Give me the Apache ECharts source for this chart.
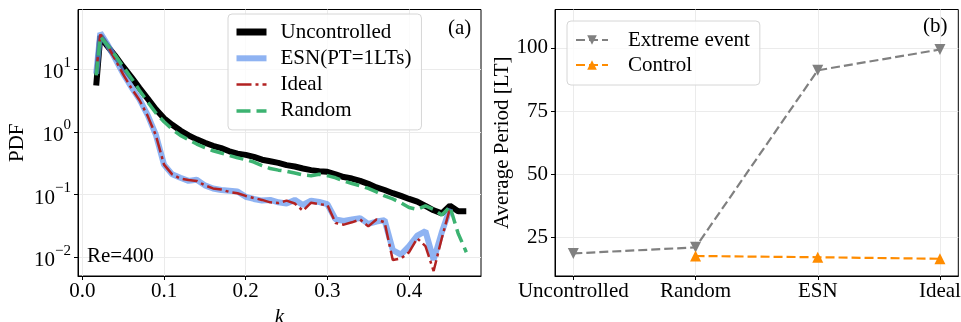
<!DOCTYPE html>
<html><head><meta charset="utf-8">
<script src="https://cdn.jsdelivr.net/npm/echarts@6/dist/echarts.min.js"></script>
<style>html,body{margin:0;padding:0;background:#fff}#c{width:961px;height:322px}</style>
</head><body><div id="c"></div>
<script>
// ---- Data (panel a) ----
const kGrid = [0.017,0.022,0.03,0.04,0.05,0.06,0.07,0.08,0.09,0.10,0.11,0.12,0.13,0.14,0.15,0.16,0.17,0.18,0.19,0.20,0.21,0.22,0.23,0.24,0.25,0.26,0.27,0.28,0.29,0.30,0.31,0.32,0.33,0.34,0.35,0.36,0.37,0.38,0.39,0.40,0.41,0.42,0.43,0.44,0.45,0.46,0.47];
const pdfUncontrolled = [5.5,34,24,16.5,11,7.5,5.0,3.4,2.3,1.65,1.3,1.05,0.88,0.76,0.67,0.6,0.55,0.49,0.45,0.43,0.40,0.36,0.34,0.32,0.295,0.28,0.26,0.245,0.235,0.23,0.21,0.19,0.18,0.165,0.148,0.13,0.118,0.105,0.095,0.085,0.077,0.066,0.056,0.05,0.066,0.054,0.054];
const pdfESN = [8.5,38,26,15,8.5,5.2,3.3,1.85,0.9,0.3,0.21,0.185,0.165,0.172,0.14,0.125,0.118,0.115,0.112,0.092,0.085,0.08,0.082,0.075,0.072,0.082,0.068,0.08,0.076,0.07,0.04,0.038,0.04,0.042,0.034,0.037,0.039,0.013,0.011,0.015,0.022,0.026,0.009,0.025,0.06,null,null];
const pdfIdeal = [9,36,25,14.5,8.3,5.0,3.2,1.8,0.88,0.3,0.21,0.18,0.17,0.165,0.14,0.125,0.12,0.11,0.105,0.095,0.088,0.082,0.075,0.073,0.08,0.072,0.055,0.074,0.07,0.068,0.035,0.033,0.036,0.04,0.031,0.04,0.036,0.009,0.0095,0.012,0.02,0.015,0.006,0.02,0.06,null,null];
const pdfRandom = [8,33,25,17,11,7.2,4.6,3.0,2.0,1.45,1.1,0.88,0.75,0.64,0.56,0.5,0.46,0.42,0.385,0.36,0.33,0.29,0.26,0.245,0.235,0.22,0.205,0.2,0.21,0.2,0.185,0.165,0.15,0.138,0.125,0.11,0.095,0.085,0.074,0.062,0.058,0.066,0.058,0.047,0.064,0.024,0.012];
const kTicks = [0, 0.1, 0.2, 0.3, 0.4];
const pdfTicks = [0.01, 0.1, 1, 10];
// ---- Data (panel b) ----
const methods = ['Uncontrolled', 'Random', 'ESN', 'Ideal'];
const extremePeriod = [18.8, 21.2, 91.1, 99.3];
const controlPeriod = [null, 17.8, 17.3, 16.7];
const periodTicks = [25, 50, 75, 100];

const FONT = '"Liberation Serif", "DejaVu Serif", serif';
const FS = 21;
const GRIDC = '#ebebeb';
const BLUE = 'rgba(100,149,237,0.72)';
const toPts = (xs, ys) => xs.map((x, i) => [x, ys[i]]).filter(p => p[1] != null);
function logLabel(v) {
  const e = Math.log10(v);
  const r = Math.round(e);
  if (Math.abs(e - r) > 1e-6) return '';
  const s = String(r).replace('-', '\u2212');
  return '{b|10}{s|' + s + '}';
}

const chart = echarts.init(document.getElementById('c'), null, {renderer: 'canvas'});
const axisCommon = {
  axisLine: {onZero: false, lineStyle: {color: '#000', width: 1}},
  axisTick: {inside: false, length: 4, lineStyle: {color: '#000', width: 1}},
  splitLine: {show: true, lineStyle: {color: GRIDC, width: 1}},
};
const hideSym = {opacity: 0, borderWidth: 0};
chart.setOption({
  animation: false,
  backgroundColor: '#fff',
  textStyle: {fontFamily: FONT, color: '#000'},
  grid: [
    {left: 78, top: 9.5, width: 403, height: 266.5, containLabel: false, outerBoundsMode: 'none', show: true, borderColor: '#000', borderWidth: 1, backgroundColor: 'transparent'},
    {left: 555, top: 9.5, width: 403.3, height: 266.5, containLabel: false, outerBoundsMode: 'none', show: true, borderColor: '#000', borderWidth: 1, backgroundColor: 'transparent'}
  ],
  xAxis: [
    Object.assign({}, axisCommon, {
      gridIndex: 0, type: 'value', min: -0.0053, max: 0.488,
      axisTick: Object.assign({}, axisCommon.axisTick, {customValues: kTicks}),
      axisLabel: {customValues: kTicks, margin: 5, fontFamily: FONT, fontSize: FS, color: '#000', formatter: v => v.toFixed(1)},
      name: 'k', nameLocation: 'middle', nameGap: 16,
      nameTextStyle: {fontFamily: FONT, fontSize: FS, fontStyle: 'italic', color: '#000'}
    }),
    Object.assign({}, axisCommon, {
      gridIndex: 1, type: 'value', min: -0.15, max: 3.15,
      axisTick: Object.assign({}, axisCommon.axisTick, {customValues: [0, 1, 2, 3]}),
      axisLabel: {customValues: [0, 1, 2, 3], margin: 5, fontFamily: FONT, fontSize: FS, color: '#000', formatter: v => methods[Math.round(v)] || ''}
    })
  ],
  yAxis: [
    Object.assign({}, axisCommon, {
      gridIndex: 0, type: 'log', logBase: 10, min: 0.005, max: 90,
      axisTick: Object.assign({}, axisCommon.axisTick, {customValues: pdfTicks}),
      minorTick: {show: false},
      axisLabel: {customValues: pdfTicks, margin: 7, formatter: logLabel,
        rich: {b: {fontFamily: FONT, fontSize: FS, color: '#000', verticalAlign: 'bottom', lineHeight: 28},
               s: {fontFamily: FONT, fontSize: 15, color: '#000', verticalAlign: 'top', lineHeight: 15}}},
      name: 'PDF', nameLocation: 'middle', nameGap: 50, nameRotate: 90,
      nameTextStyle: {fontFamily: FONT, fontSize: FS, color: '#000'}
    }),
    Object.assign({}, axisCommon, {
      gridIndex: 1, type: 'value', min: 9.9, max: 115.1,
      axisTick: Object.assign({}, axisCommon.axisTick, {customValues: periodTicks}),
      axisLabel: {customValues: periodTicks, margin: 7, fontFamily: FONT, fontSize: FS, color: '#000'},
      name: 'Average Period [LT]', nameLocation: 'middle', nameGap: 39, nameRotate: 90,
      nameTextStyle: {fontFamily: FONT, fontSize: FS, color: '#000'}
    })
  ],
  legend: [
    {
      orient: 'vertical', left: 228, top: 14, padding: [7, 10, 8, 5], itemGap: 4.3,
      itemWidth: 30, itemHeight: 14,
      backgroundColor: 'rgba(255,255,255,0.8)', borderColor: '#d6d6d6', borderWidth: 1, borderRadius: 4,
      textStyle: {fontFamily: FONT, fontSize: FS, color: '#000', lineHeight: 22, padding: [0, 0, 0, 9]},
      data: [
        {name: 'Uncontrolled', lineStyle: {width: 7}, itemStyle: hideSym},
        {name: 'ESN(PT=1LTs)', lineStyle: {width: 6}, itemStyle: hideSym},
        {name: 'Ideal', lineStyle: {width: 2.5}, itemStyle: hideSym},
        {name: 'Random', lineStyle: {width: 3.5}, itemStyle: hideSym}
      ]
    },
    {
      orient: 'vertical', left: 567, top: 21, padding: [8, 10, 9, 8], itemGap: 3,
      itemWidth: 32, itemHeight: 12,
      backgroundColor: 'rgba(255,255,255,0.8)', borderColor: '#d6d6d6', borderWidth: 1, borderRadius: 4,
      textStyle: {fontFamily: FONT, fontSize: FS, color: '#000', lineHeight: 22, padding: [0, 0, 0, 15]},
      data: [
        {name: 'Extreme event', symbolRotate: 180},
        {name: 'Control'}
      ]
    }
  ],
  graphic: [
    {type: 'text', left: 448, top: 18, style: {text: '(a)', font: FS + 'px ' + FONT, fill: '#000'}},
    {type: 'text', left: 87, top: 246, z: 10, style: {text: 'Re=400', font: FS + 'px ' + FONT, fill: '#000'}},
    {type: 'text', left: 923, top: 16, style: {text: '(b)', font: FS + 'px ' + FONT, fill: '#000'}}
  ],
  series: [
    {name: 'Uncontrolled', type: 'line', xAxisIndex: 0, yAxisIndex: 0, data: toPts(kGrid, pdfUncontrolled),
     showSymbol: false, symbol: 'none', lineStyle: {color: '#000', width: 6}, itemStyle: {color: '#000'}},
    {name: 'ESN(PT=1LTs)', type: 'line', xAxisIndex: 0, yAxisIndex: 0, data: toPts(kGrid, pdfESN),
     showSymbol: false, symbol: 'none', lineStyle: {color: BLUE, width: 6}, itemStyle: {color: BLUE}},
    {name: 'Ideal', type: 'line', xAxisIndex: 0, yAxisIndex: 0, data: toPts(kGrid, pdfIdeal),
     showSymbol: false, symbol: 'none', lineStyle: {color: '#b22222', width: 2.5, type: [15, 4, 3, 4]}, itemStyle: {color: '#b22222'}},
    {name: 'Random', type: 'line', xAxisIndex: 0, yAxisIndex: 0, data: toPts(kGrid, pdfRandom),
     showSymbol: false, symbol: 'none', lineStyle: {color: '#3cb371', width: 3.5, type: [14, 6]}, itemStyle: {color: '#3cb371'}},
    {name: 'Extreme event', type: 'line', xAxisIndex: 1, yAxisIndex: 1,
     data: methods.map((m, i) => [i, extremePeriod[i]]).filter(p => p[1] != null),
     symbol: 'triangle', symbolRotate: 180, symbolSize: 11,
     lineStyle: {color: '#808080', width: 2.2, type: [9, 4]}, itemStyle: {color: '#808080'}},
    {name: 'Control', type: 'line', xAxisIndex: 1, yAxisIndex: 1,
     data: methods.map((m, i) => [i, controlPeriod[i]]).filter(p => p[1] != null),
     symbol: 'triangle', symbolSize: 11,
     lineStyle: {color: '#ff8c00', width: 2.2, type: [9, 4]}, itemStyle: {color: '#ff8c00'}}
  ]
});
</script></body></html>
